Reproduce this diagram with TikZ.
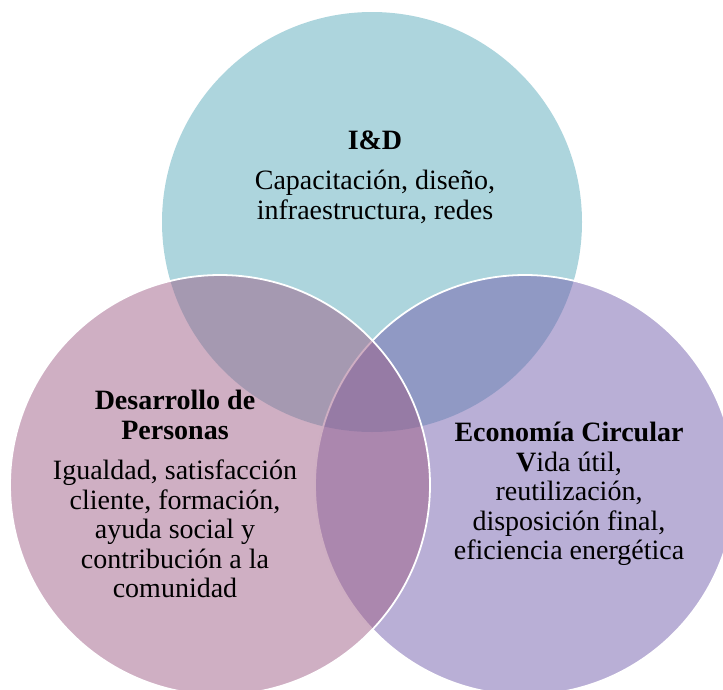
\documentclass[tikz,border=0pt]{standalone}
\usepackage{fontspec}
\setmainfont{Liberation Serif}
\usetikzlibrary{calc}

\definecolor{idteal}{RGB}{91,171,187}
\definecolor{perpink}{RGB}{159,95,135}
\definecolor{ecolila}{RGB}{115,95,173}

\begin{document}
\begin{tikzpicture}[x=1pt, y=1pt,
		circ/.style={circle, minimum size=420pt, inner sep=0pt, fill opacity=0.5, draw=white, line width=1.8pt},
		lbl/.style={align=center, inner sep=0pt, font=\fontsize{28}{29.5}\selectfont}]
			\useasboundingbox (0,0) rectangle (723,-689);
			\clip (0,0) rectangle (723,-689);
			% the three circles, drawn in order
			\node[circ, fill=idteal, draw=none] (iyd) at (372,-222) {};
			\node[circ, fill=ecolila] (eco) at (525,-485) {};
			\node[circ, fill=perpink] (per) at (220,-485) {};
			% texts
			\node[lbl] (iydtxt) at (375,-177) {\textbf{I\&D}\\[11pt]Capacitación, diseño,\\infraestructura, redes};
			\node[lbl] (pertxt) at (175,-494) {\textbf{Desarrollo de}\\\textbf{Personas}\\[11pt]Igualdad, satisfacción\\cliente, formación,\\ayuda social y\\contribución a la\\comunidad};
			\node[lbl] (ecotxt) at (569,-494) {\textbf{Economía Circular}\\\textbf{V}ida útil,\\reutilización,\\disposición final,\\eficiencia energética};
		\end{tikzpicture}
\end{document}
